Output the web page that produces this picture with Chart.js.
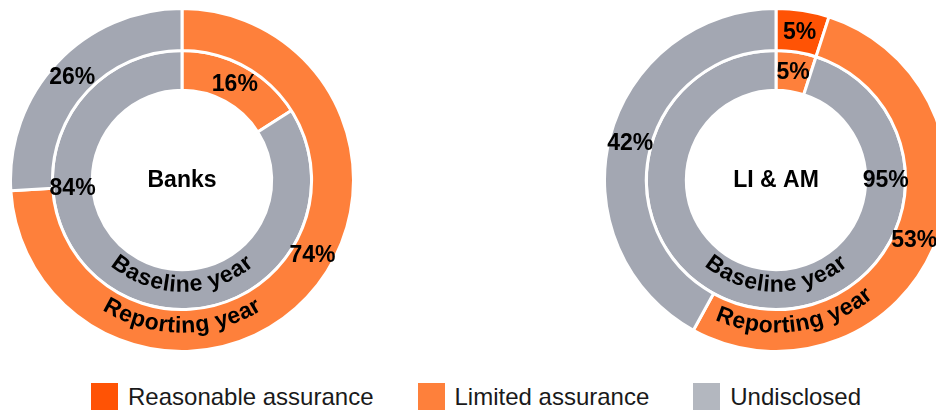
<!DOCTYPE html>
<html>
<head>
<meta charset="utf-8">
<script src="https://cdn.jsdelivr.net/npm/chart.js@4/dist/chart.umd.min.js"></script>
<style>
  html, body { margin: 0; padding: 0; background: #fff; width: 936px; height: 412px; overflow: hidden; }
  body { position: relative; font-family: "Liberation Sans", Arial, sans-serif; }
  .pie { position: absolute; top: 7px; width: 346px; height: 346px; }
  #legend { position: absolute; left: 91px; top: 383px; display: flex; align-items: center; }
  .item { display: flex; align-items: center; margin-right: 44px; }
  .box { width: 27px; height: 27px; margin-right: 10px; }
  .item span { font-size: 24px; color: #1a1a1a; line-height: 27px; }
</style>
</head>
<body>
<div class="pie" style="left:9px"><canvas id="banks" width="346" height="346"></canvas></div>
<div class="pie" style="left:603px"><canvas id="liam" width="346" height="346"></canvas></div>
<div id="legend"></div>
<script>
// categories and colours
const categories = ["Reasonable assurance", "Limited assurance", "Undisclosed"];
const sliceColors = ["#ff5305", "#fe803b", "#a3a7b2"];
const legendColors = ["#ff5305", "#fe803b", "#b3b7bf"];
const ringNames = ["Reporting year", "Baseline year"]; // outer ring, inner ring

// values in % (outer ring = reporting year, inner ring = baseline year)
const banksReporting = [0, 74, 26];
const banksBaseline = [0, 16, 84];
const liamReporting = [5, 53, 42];
const liamBaseline = [0, 5, 95];

// where the % label sits along each slice (0 = start, 1 = end)
const banksLabelPos = [[0.5, 0.45, 0.5], [0.5, 0.5, 0.69]];
const liamLabelPos = [[0.5, 0.5, 0.5], [0.5, 0.5, 0.21]];

// build the html legend
const legendDiv = document.getElementById("legend");
categories.forEach((c, i) => {
  legendDiv.insertAdjacentHTML("beforeend",
    `<div class="item"><div class="box" style="background:${legendColors[i]}"></div><span>${c}</span></div>`);
});

// draws % labels, ring names along the bottom of each ring and the centre title
const ringText = {
  id: "ringText",
  afterDatasetsDraw(chart, args, opts) {
    const ctx = chart.ctx;
    ctx.save();
    ctx.fillStyle = "#000";
    ctx.font = "bold 23px 'Liberation Sans', Arial, sans-serif";
    ctx.textAlign = "center";

    chart.data.datasets.forEach((ds, i) => {
      const meta = chart.getDatasetMeta(i);
      const first = meta.data[0].getProps(["x", "y", "innerRadius", "outerRadius"], true);
      const cx = first.x, cy = first.y;
      const mid = (first.innerRadius + first.outerRadius) / 2;

      // curved ring name
      const name = ringNames[i];
      const rb = mid + 2;
      const rs = rb - 6;
      ctx.textBaseline = "alphabetic";
      const total = ctx.measureText(name).width;
      let th = Math.PI / 2 + opts.nameShift[i] * Math.PI / 180 + total / rs / 2;
      for (const ch of name) {
        const w = ctx.measureText(ch).width;
        const t = th - w / 2 / rs;
        ctx.save();
        ctx.translate(cx + rb * Math.cos(t), cy + rb * Math.sin(t));
        ctx.rotate(t - Math.PI / 2);
        ctx.fillText(ch, 0, 0);
        ctx.restore();
        th -= w / rs;
      }

      // percentage labels
      ctx.textBaseline = "middle";
      meta.data.forEach((arc, j) => {
        const v = ds.data[j];
        if (!v) return;
        const p = arc.getProps(["startAngle", "endAngle", "innerRadius", "outerRadius"], true);
        const a = p.startAngle + opts.labelPos[i][j] * (p.endAngle - p.startAngle);
        const r = (p.innerRadius + p.outerRadius) / 2;
        ctx.fillText(v + "%", cx + r * Math.cos(a), cy + r * Math.sin(a) + 1);
      });
    });

    // centre title
    const c = chart.getDatasetMeta(0).data[0];
    ctx.textBaseline = "middle";
    ctx.fillText(opts.title, c.x, c.y + 1);
    ctx.restore();
  }
};

function makeDonut(id, title, reporting, baseline, labelPos, nameShift) {
  return new Chart(document.getElementById(id), {
    type: "doughnut",
    data: {
      labels: categories,
      datasets: [
        { label: ringNames[0], data: reporting, backgroundColor: sliceColors, borderColor: "#fff", borderWidth: 3, weight: 1.05 },
        { label: ringNames[1], data: baseline, backgroundColor: sliceColors, borderColor: "#fff", borderWidth: 3, weight: 1 }
      ]
    },
    plugins: [ringText],
    options: {
      responsive: false,
      animation: false,
      cutout: "52.3%",
      layout: { padding: 0 },
      plugins: {
        legend: { display: false },
        tooltip: { enabled: false },
        ringText: { title: title, labelPos: labelPos, nameShift: nameShift }
      }
    }
  });
}

makeDonut("banks", "Banks", banksReporting, banksBaseline, banksLabelPos, [0, 0]);
makeDonut("liam", "LI & AM", liamReporting, liamBaseline, liamLabelPos, [-8, 0]);
</script>
</body>
</html>
